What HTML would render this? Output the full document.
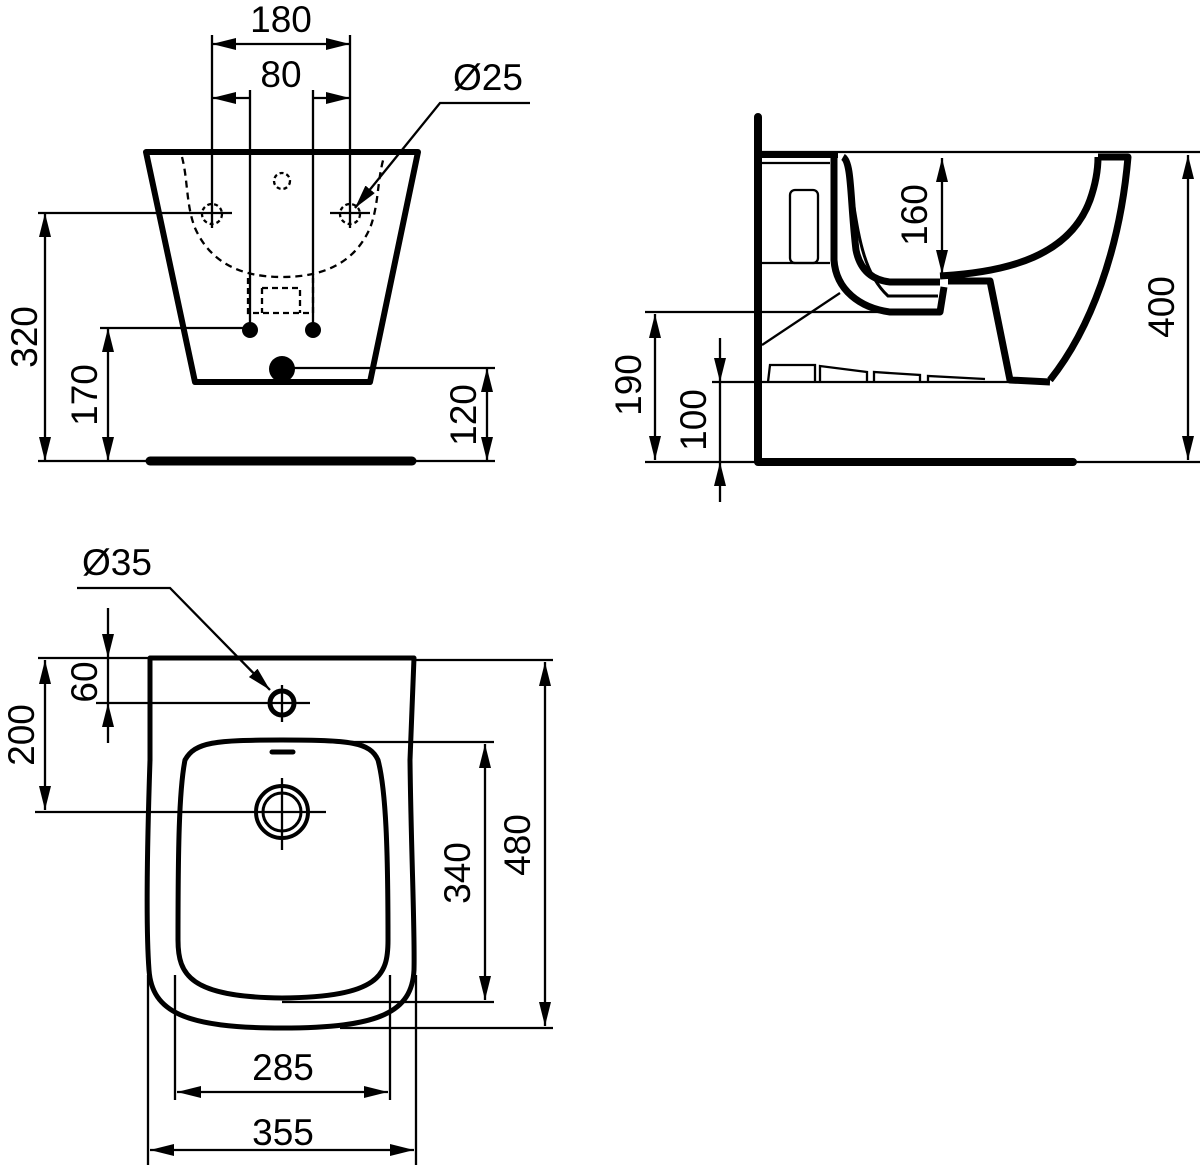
<!DOCTYPE html>
<html><head><meta charset="utf-8"><style>
html,body{margin:0;padding:0;background:#fff}
svg{display:block}
text{font-family:"Liberation Sans",Arial,sans-serif;font-size:37px;fill:#000}
</style></head><body>
<svg width="1200" height="1167" viewBox="0 0 1200 1167" xmlns="http://www.w3.org/2000/svg">
<defs>
<marker id="b" viewBox="0 0 24 12" refX="24" refY="6" markerWidth="24" markerHeight="12" markerUnits="userSpaceOnUse" orient="auto-start-reverse">
<path d="M0,0 L24,6 L0,12 z" fill="#000"/></marker>
</defs>
<g fill="none" stroke="#000" stroke-width="2.3">
<!-- FRONT VIEW -->
<path d="M146,152 L418,152 L370,382 L195,382 Z" stroke-width="6" stroke-linejoin="round"/>
<path d="M182,157 C188,180 186,205 195,228 C210,262 240,277 282,277 C325,277 355,262 370,228 C379,205 377,180 384,157" stroke-dasharray="7,5"/>
<path d="M248,278 L248,313 L313,313 L313,278 M262,288 L300,288 L300,313 M262,288 L262,313" stroke-dasharray="6,4"/>
<circle cx="282" cy="181" r="8" stroke-dasharray="4,3"/>
<circle cx="212" cy="214" r="10" stroke-dasharray="4,3"/>
<circle cx="350" cy="214" r="10" stroke-dasharray="4,3"/>
<line x1="212" y1="35" x2="212" y2="228"/><line x1="350" y1="35" x2="350" y2="228"/>
<line x1="250" y1="90" x2="250" y2="330"/><line x1="313" y1="90" x2="313" y2="330"/>
<line x1="212" y1="44" x2="350" y2="44" marker-start="url(#b)" marker-end="url(#b)"/>
<line x1="212" y1="98" x2="250" y2="98" marker-start="url(#b)"/>
<line x1="313" y1="98" x2="350" y2="98" marker-end="url(#b)"/>
<polyline points="530,103 440,103 355,208" marker-end="url(#b)"/>
<line x1="38" y1="213" x2="232" y2="213"/><line x1="330" y1="213" x2="370" y2="213"/>
<line x1="100" y1="328" x2="250" y2="328"/>
<line x1="38" y1="461" x2="495" y2="461"/>
<line x1="290" y1="368" x2="495" y2="368"/>
<line x1="45" y1="213" x2="45" y2="461" marker-start="url(#b)" marker-end="url(#b)"/>
<line x1="108" y1="328" x2="108" y2="461" marker-start="url(#b)" marker-end="url(#b)"/>
<line x1="487" y1="368" x2="487" y2="461" marker-start="url(#b)" marker-end="url(#b)"/>
<line x1="150" y1="461" x2="412" y2="461" stroke-width="9" stroke-linecap="round"/>
</g>
<circle cx="250" cy="330" r="8"/><circle cx="313" cy="330" r="8"/><circle cx="282" cy="369" r="13"/>
<text x="281" y="32" text-anchor="middle">180</text>
<text x="281" y="87" text-anchor="middle">80</text>
<text x="488" y="90" text-anchor="middle">Ø25</text>
<text transform="translate(37,337) rotate(-90)" text-anchor="middle">320</text>
<text transform="translate(97,395) rotate(-90)" text-anchor="middle">170</text>
<text transform="translate(476,415) rotate(-90)" text-anchor="middle">120</text>

<!-- SIDE VIEW -->
<g fill="none" stroke="#000" stroke-width="2.3">
<path d="M758,117 L758,462 L1073,462" stroke-width="8" stroke-linecap="round" stroke-linejoin="round"/>
<line x1="762" y1="152" x2="1200" y2="152"/>
<line x1="762" y1="155" x2="838" y2="155" stroke-width="6"/>
<rect x="790" y="190" width="28" height="73" rx="5"/>
<line x1="762" y1="163" x2="830" y2="163"/>
<line x1="762" y1="263" x2="830" y2="263"/>
<path d="M834,157 L834,260 C836,290 860,308 890,312 L940,312 L944,287" stroke-width="7" stroke-linejoin="round"/>
<path d="M843,157 C852,162 850,200 856,250 C860,270 872,280 890,282 L940,282" stroke-width="7"/>
<path d="M845,160 C858,210 855,265 888,296 L938,296" stroke-width="3"/>
<path d="M940,276 C1010,272 1070,255 1090,200 C1097,180 1098,165 1098,157" stroke-width="7"/>
<path d="M1098,157 L1128,157 C1120,250 1090,330 1050,380" stroke-width="7" stroke-linejoin="round"/>
<path d="M948,281 L990,281 L1010,380 L1050,382" stroke-width="7" stroke-linejoin="round"/>
<line x1="762" y1="345" x2="840" y2="293"/>
<path d="M768,382 L770,365 L815,365 L815,382 M820,382 L820,366 L867,372 L867,382 M874,382 L874,372 L920,375 L920,382 M928,382 L928,376 L985,379" />
<line x1="645" y1="312" x2="885" y2="312"/>
<line x1="712" y1="382" x2="1050" y2="382"/>
<line x1="645" y1="462" x2="758" y2="462"/>
<line x1="1073" y1="462" x2="1200" y2="462"/>
<line x1="1188" y1="155" x2="1188" y2="460" marker-start="url(#b)" marker-end="url(#b)"/>
<line x1="655" y1="314" x2="655" y2="460" marker-start="url(#b)" marker-end="url(#b)"/>
<line x1="720" y1="338" x2="720" y2="382" marker-end="url(#b)"/>
<line x1="720" y1="382" x2="720" y2="462"/>
<line x1="720" y1="502" x2="720" y2="462" marker-end="url(#b)"/>
<line x1="942" y1="158" x2="942" y2="274" marker-start="url(#b)" marker-end="url(#b)"/>
</g>
<text transform="translate(927,215) rotate(-90)" text-anchor="middle">160</text>
<text transform="translate(1174,307) rotate(-90)" text-anchor="middle">400</text>
<text transform="translate(641,385) rotate(-90)" text-anchor="middle">190</text>
<text transform="translate(706,420) rotate(-90)" text-anchor="middle">100</text>

<!-- PLAN VIEW -->
<g fill="none" stroke="#000" stroke-width="2.3">
<path d="M150,658 L414,658 L410,760 C411,850 415,930 414,970 C412,1012 380,1028 282,1028 C185,1028 152,1012 149,970 C146,930 147,850 150,760 Z" stroke-width="5" stroke-linejoin="round"/>
<path d="M282,740 C350,740 370,742 378,760 C386,790 388,850 388,940 C388,975 380,997 282,998 C190,997 178,975 178,940 C178,850 179,790 185,760 C195,742 215,740 282,740 Z" stroke-width="5"/>
<line x1="272" y1="752" x2="293" y2="752" stroke-width="5" stroke-linecap="round"/>
<circle cx="282" cy="703" r="12" stroke-width="5"/>
<circle cx="282" cy="812" r="26" stroke-width="4"/>
<circle cx="282" cy="812" r="19" stroke-width="3"/>
<line x1="282" y1="685" x2="282" y2="722"/><line x1="96" y1="703" x2="310" y2="703"/>
<line x1="282" y1="778" x2="282" y2="850"/><line x1="35" y1="812" x2="326" y2="812"/>
<polyline points="77,588 170,588 270,690" marker-end="url(#b)"/>
<line x1="38" y1="658" x2="150" y2="658"/>
<line x1="414" y1="660" x2="553" y2="660"/>
<line x1="330" y1="742" x2="494" y2="742"/>
<line x1="282" y1="1002" x2="494" y2="1002"/>
<line x1="340" y1="1028" x2="553" y2="1028"/>
<line x1="45" y1="660" x2="45" y2="810" marker-start="url(#b)" marker-end="url(#b)"/>
<line x1="108" y1="608" x2="108" y2="658" marker-end="url(#b)"/>
<line x1="108" y1="658" x2="108" y2="703"/>
<line x1="108" y1="743" x2="108" y2="703" marker-end="url(#b)"/>
<line x1="485" y1="744" x2="485" y2="1000" marker-start="url(#b)" marker-end="url(#b)"/>
<line x1="545" y1="662" x2="545" y2="1026" marker-start="url(#b)" marker-end="url(#b)"/>
<line x1="175" y1="975" x2="175" y2="1100"/><line x1="390" y1="975" x2="390" y2="1100"/>
<line x1="148" y1="975" x2="148" y2="1165"/><line x1="416" y1="975" x2="416" y2="1165"/>
<line x1="177" y1="1092" x2="388" y2="1092" marker-start="url(#b)" marker-end="url(#b)"/>
<line x1="150" y1="1150" x2="414" y2="1150" marker-start="url(#b)" marker-end="url(#b)"/>
</g>
<text x="117" y="575" text-anchor="middle">Ø35</text>
<text transform="translate(97,682) rotate(-90)" text-anchor="middle">60</text>
<text transform="translate(34,735) rotate(-90)" text-anchor="middle">200</text>
<text transform="translate(470,873) rotate(-90)" text-anchor="middle">340</text>
<text transform="translate(530,845) rotate(-90)" text-anchor="middle">480</text>
<text x="283" y="1080" text-anchor="middle">285</text>
<text x="283" y="1145" text-anchor="middle">355</text>
</svg>
</body></html>
